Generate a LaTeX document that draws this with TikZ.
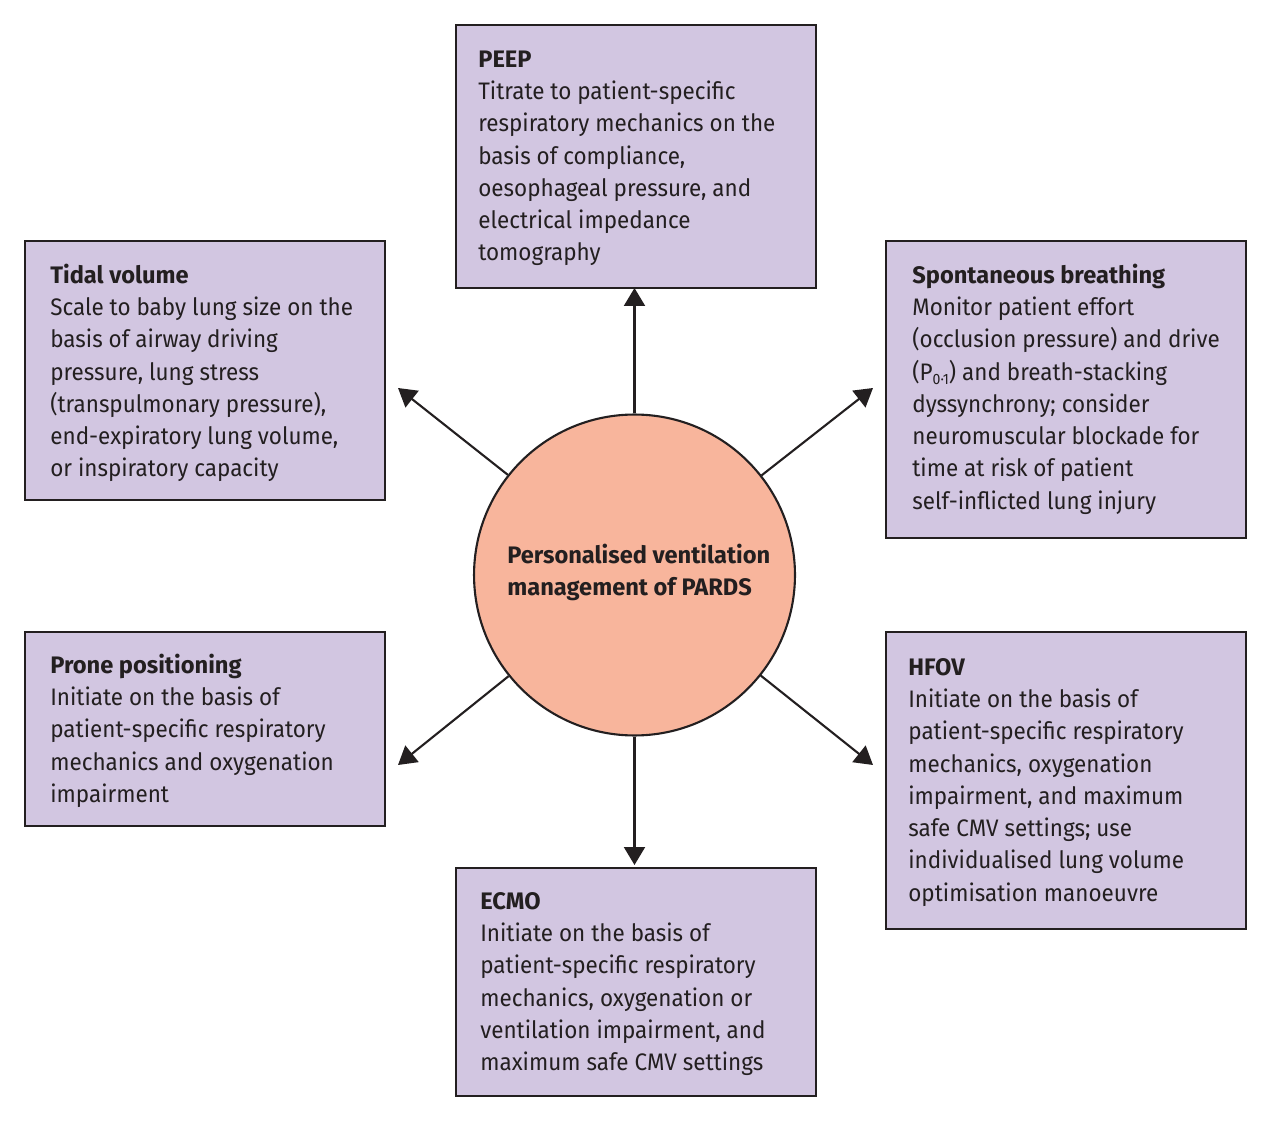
\documentclass[tikz,border=0pt]{standalone}
\usepackage{fontspec}
\setmainfont{Fira Sans}[FakeStretch=0.94, BoldFeatures={FakeStretch=0.99}]
\usetikzlibrary{arrows.meta}
\definecolor{boxfill}{HTML}{D2C6E1}
\definecolor{circfill}{HTML}{F8B59C}
\definecolor{ink}{HTML}{231F20}
\newcommand\fs{\rule{0pt}{12pt}}
\begin{document}
\begin{tikzpicture}[x=0.02cm,y=-0.02cm,
  box/.style={draw=ink, line width=1.2pt, fill=boxfill, rectangle, inner sep=0pt, anchor=north west, minimum width=7.2cm},
  txt/.style={anchor=north west, inner sep=0pt, align=left, text=ink, font=\fontsize{13.6}{18.35}\selectfont},
  arr/.style={draw=ink, line width=1.2pt, -{Triangle[length=0.36cm,width=0.42cm]}}]
\useasboundingbox (0,0) rectangle (1270,1124);

% boxes
\node[box, minimum height=5.26cm] (peep) at (455,24) {};
\node[box, minimum height=5.18cm] (tidal) at (24,240) {};
\node[box, minimum height=5.94cm] (spont) at (885,240) {};
\node[box, minimum height=3.88cm] (prone) at (24,631) {};
\node[box, minimum height=5.94cm] (hfov) at (885,631) {};
\node[box, minimum height=4.56cm] (ecmo) at (455,867) {};

% texts
\node[txt] (peept) at (478,45.9) {\fs\textbf{PEEP}\\
Titrate to patient-specific\\
respiratory mechanics on the\\
basis of compliance,\\
oesophageal pressure, and\\
electrical impedance\\
tomography};

\node[txt] (tidalt) at (50,261.9) {\fs\textbf{Tidal volume}\\
Scale to baby lung size on the\\
basis of airway driving\\
pressure, lung stress\\
(transpulmonary pressure),\\
end-expiratory lung volume,\\
or inspiratory capacity};

\node[txt] (spontt) at (912,261.9) {\fs\textbf{Spontaneous breathing}\\
Monitor patient effort\\
(occlusion pressure) and drive\\
(P\raisebox{-0.35ex}{\fontsize{8.5}{10}\selectfont 0·1}) and breath-stacking\\
dyssynchrony; consider\\
neuromuscular blockade for\\
time at risk of patient\\
self-inflicted lung injury};

\node[txt] (pronet) at (50,651.9) {\fs\textbf{Prone positioning}\\
Initiate on the basis of\\
patient-specific respiratory\\
mechanics and oxygenation\\
impairment};

\node[txt] (hfovt) at (908,653.9) {\fs\textbf{HFOV}\\
Initiate on the basis of\\
patient-specific respiratory\\
mechanics, oxygenation\\
impairment, and maximum\\
safe CMV settings; use\\
individualised lung volume\\
optimisation manoeuvre};

\node[txt] (ecmot) at (480,887.9) {\fs\textbf{ECMO}\\
Initiate on the basis of\\
patient-specific respiratory\\
mechanics, oxygenation or\\
ventilation impairment, and\\
maximum safe CMV settings};

% centre circle
\node[circle, draw=ink, line width=1.2pt, fill=circfill, minimum size=6.42cm, inner sep=0pt] (c) at (634.5,575) {};
\node[txt] (ct) at (507,541.9) {\fs\textbf{Personalised ventilation}\\
\textbf{management of PARDS}};

% arrow ends
\coordinate (ul) at (398,388);
\coordinate (ur) at (873,388);
\coordinate (ll) at (398,765);
\coordinate (lr) at (873,765);
\coordinate (dn) at (634.5,865);
\coordinate (up) at (634.5,288);

\draw[arr] (c) -- (up);
\draw[arr] (c) -- (dn);
\draw[arr] (c) -- (ul);
\draw[arr] (c) -- (ur);
\draw[arr] (c) -- (ll);
\draw[arr] (c) -- (lr);
\end{tikzpicture}
\end{document}
